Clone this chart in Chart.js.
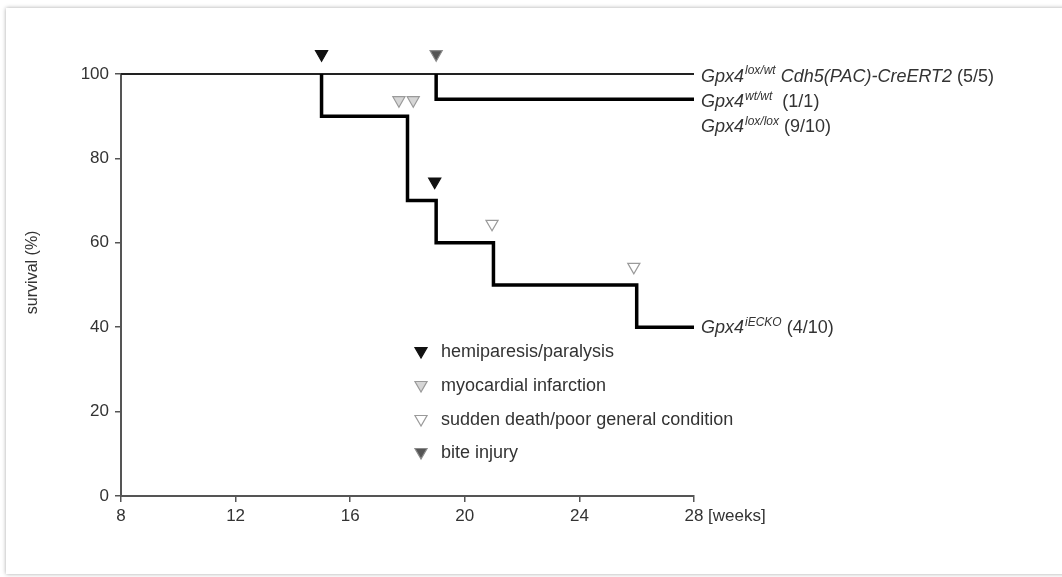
<!DOCTYPE html>
<html>
<head>
<meta charset="utf-8">
<script src="https://cdn.jsdelivr.net/npm/chart.js@4.4.1/dist/chart.umd.min.js"></script>
<style>
  html, body { margin: 0; padding: 0; background: #fff; }
  body { width: 1062px; height: 577px; position: relative; overflow: hidden; }
  #frame {
    position: absolute; left: 6px; top: 8px; width: 1100px; height: 566px;
    background: #fff; box-shadow: 0 0 4px rgba(0,0,0,0.35);
  }
  #wrap { position: absolute; left: 0; top: 0; width: 1062px; height: 577px; }
</style>
</head>
<body>
<div id="frame"></div>
<div id="wrap"><canvas id="survivalChart" width="1062" height="577"></canvas></div>
<script>
// curvas de supervivencia (semanas / %)
// las curvas gruesas empiezan en su primera caída (el tramo al 100% lo cubre la línea fina)
const weeksCdh5 = [8, 28];
const survCdh5 = [100, 100];
const weeksCtrl = [19, 19, 28];
const survCtrl = [100, 94, 94];
const weeksEcko = [15, 15, 18, 19, 21, 26, 28];
const survEcko = [100, 90, 70, 60, 50, 40, 40];

// eventos (triángulos)
const hemiWeeks = [15, 18.95];
const hemiY = [104.7, 74.5];
const infarctWeeks = [17.7, 18.2];
const infarctY = [93.8, 93.8];
const suddenWeeks = [20.95, 25.9];
const suddenY = [64.5, 54.3];
const biteWeeks = [19];
const biteY = [104.7];

const xTicks = [8, 12, 16, 20, 24, 28];
const yTicks = [0, 20, 40, 60, 80, 100];

// etiquetas a la derecha: [base, superíndice, resto cursiva, resto normal]
const curveLabels = [
  ['Gpx4', 'lox/wt', ' Cdh5(PAC)-CreERT2', ' (5/5)'],
  ['Gpx4', 'wt/wt', '', '  (1/1)'],
  ['Gpx4', 'lox/lox', '', ' (9/10)'],
  ['Gpx4', 'iECKO', '', ' (4/10)']
];
const curveLabelY = [99.5, 93.5, 87.6, 40];

const legendLabels = ['hemiparesis/paralysis', 'myocardial infarction', 'sudden death/poor general condition', 'bite injury'];

const markerStyles = [
  { fill: '#111', stroke: '#111' },
  { fill: '#d6d6d6', stroke: '#9a9a9a' },
  { fill: '#fff', stroke: '#9a9a9a' },
  { fill: '#555', stroke: '#8a8a8a' }
];

function pts(xs, ys) {
  return xs.map((x, i) => ({ x: x, y: ys[i] }));
}

const textColor = '#333';
const fontFam = '"Liberation Sans", Arial, sans-serif';

const labelsPlugin = {
  id: 'labelsPlugin',
  beforeDatasetsDraw(chart) {
    // eje y solo de 0 a 100
    const ctx = chart.ctx;
    const ys = chart.scales.y;
    const x0 = chart.scales.x.left;
    ctx.save();
    ctx.strokeStyle = '#555';
    ctx.lineWidth = 2;
    ctx.beginPath();
    ctx.moveTo(x0, ys.getPixelForValue(0) + 1);
    ctx.lineTo(x0, ys.getPixelForValue(100));
    ctx.stroke();
    ctx.restore();
  },
  afterDraw(chart) {
    const ctx = chart.ctx;
    const xs = chart.scales.x;
    const ys = chart.scales.y;
    ctx.save();
    ctx.fillStyle = textColor;
    ctx.textBaseline = 'middle';
    ctx.textAlign = 'left';

    // etiquetas de las curvas
    curveLabels.forEach((parts, i) => {
      let x = xs.getPixelForValue(28) + 7;
      const y = ys.getPixelForValue(curveLabelY[i]) + 1;
      ctx.font = 'italic 18px ' + fontFam;
      ctx.fillText(parts[0], x, y);
      x += ctx.measureText(parts[0]).width;
      ctx.font = 'italic 12px ' + fontFam;
      ctx.fillText(parts[1], x + 1, y - 6);
      x += ctx.measureText(parts[1]).width + 1;
      if (parts[2]) {
        ctx.font = 'italic 18px ' + fontFam;
        ctx.fillText(parts[2], x, y);
        x += ctx.measureText(parts[2]).width;
      }
      ctx.font = '18px ' + fontFam;
      ctx.fillText(parts[3], x, y);
    });

    // [weeks]
    ctx.font = '17px ' + fontFam;
    ctx.textBaseline = 'top';
    ctx.fillText('[weeks]', xs.getPixelForValue(28) + 14, ys.bottom + 12);

    // leyenda
    ctx.textBaseline = 'middle';
    ctx.font = '18px ' + fontFam;
    const rowY = [352, 386, 420, 453];
    legendLabels.forEach((txt, i) => {
      ctx.fillStyle = markerStyles[i].fill;
      ctx.strokeStyle = markerStyles[i].stroke;
      ctx.lineWidth = 1.2;
      Chart.helpers.drawPoint(ctx, { pointStyle: 'triangle', rotation: 180, radius: 7, borderWidth: 1.2 }, 421, rowY[i] - 1);
      ctx.fillStyle = textColor;
      ctx.fillText(txt, 441, rowY[i]);
    });
    ctx.restore();
  }
};

function markerSet(label, xs, ys, style) {
  return {
    label: label,
    data: pts(xs, ys),
    showLine: false,
    pointStyle: 'triangle',
    pointRotation: 180,
    pointRadius: 7,
    pointBackgroundColor: style.fill,
    pointBorderColor: style.stroke,
    pointBorderWidth: 1.2,
    clip: false,
    order: 0
  };
}

const ctx = document.getElementById('survivalChart').getContext('2d');
new Chart(ctx, {
  type: 'scatter',
  data: {
    datasets: [
      { label: 'Cdh5', data: pts(weeksCdh5, survCdh5), showLine: true, borderColor: '#222', borderWidth: 2, pointRadius: 0, clip: false, order: 3 },
      { label: 'ctrl', data: pts(weeksCtrl, survCtrl), showLine: true, stepped: 'before', borderColor: '#000', borderWidth: 3.5, pointRadius: 0, clip: false, order: 2 },
      { label: 'iECKO', data: pts(weeksEcko, survEcko), showLine: true, stepped: 'before', borderColor: '#000', borderWidth: 3.5, pointRadius: 0, clip: false, order: 1 },
      markerSet('hemi', hemiWeeks, hemiY, markerStyles[0]),
      markerSet('infarct', infarctWeeks, infarctY, markerStyles[1]),
      markerSet('sudden', suddenWeeks, suddenY, markerStyles[2]),
      markerSet('bite', biteWeeks, biteY, markerStyles[3])
    ]
  },
  options: {
    responsive: false,
    animation: false,
    layout: { padding: { left: 0, right: 368, top: 48.7, bottom: 0 } },
    plugins: { legend: { display: false }, tooltip: { enabled: false } },
    scales: {
      x: {
        type: 'linear', min: 8, max: 28,
        afterBuildTicks: (s) => { s.ticks = xTicks.map(v => ({ value: v })); },
        afterFit: (s) => { s.height = 81; },
        grid: { display: true, drawOnChartArea: false, drawTicks: true, tickLength: 6, color: '#555', lineWidth: 1.5 },
        border: { color: '#555', width: 2 },
        ticks: { color: textColor, font: { size: 17, family: fontFam }, padding: 4, maxRotation: 0 }
      },
      y: {
        type: 'linear', min: 0, max: 106,
        afterBuildTicks: (s) => { s.ticks = yTicks.map(v => ({ value: v })); },
        afterFit: (s) => { s.width = 121; },
        grid: { display: true, drawOnChartArea: false, drawTicks: true, tickLength: 6, color: '#555', lineWidth: 1.5 },
        border: { display: false },
        ticks: { color: textColor, font: { size: 17, family: fontFam }, padding: 6 },
        title: { display: true, text: 'survival (%)', color: textColor, font: { size: 16, family: fontFam }, padding: { top: 23, bottom: 0 } }
      }
    }
  },
  plugins: [labelsPlugin]
});
</script>
</body>
</html>
